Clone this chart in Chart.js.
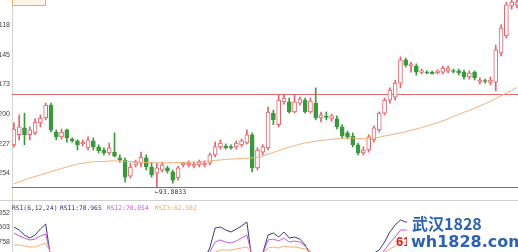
<!DOCTYPE html>
<html>
<head>
<meta charset="utf-8">
<script src="https://cdn.jsdelivr.net/npm/chart.js@4.4.1/dist/chart.umd.min.js"></script>
<style>
  html, body { margin: 0; padding: 0; background: #fff; }
  canvas { display: block; }
</style>
</head>
<body>
<canvas id="priceChart" width="518" height="200"></canvas>
<canvas id="rsiChart" width="518" height="52"></canvas>
<script>
// candles (price units)
const open = [
  93.942, 93.975, 93.998, 93.975, 93.981, 94.014, 94.030, 94.073, 93.984, 93.968,
  93.991, 93.961, 93.955, 93.945, 93.932, 93.955, 93.935, 93.925, 93.915, 93.918,
  93.899, 93.892, 93.839, 93.876, 93.882, 93.899, 93.869, 93.849, 93.859, 93.866,
  93.853, 93.833, 93.876, 93.876, 93.872, 93.876, 93.876, 93.882, 93.909, 93.935,
  93.938, 93.936, 93.935, 93.942, 93.948, 93.975, 93.866, 93.918, 93.932, 94.046,
  94.008, 94.083, 94.083, 94.050, 94.079, 94.089, 94.050, 94.079, 94.030, 94.035,
  94.027, 94.027, 94.001, 93.981, 93.971, 93.942, 93.915, 93.925, 93.958, 93.991,
  94.046, 94.089, 94.099, 94.145, 94.221, 94.201, 94.201, 94.180, 94.181, 94.180,
  94.178, 94.181, 94.185, 94.186, 94.185, 94.181, 94.165, 94.181, 94.148, 94.153,
  94.147, 94.148, 94.244, 94.300, 94.398, 94.402
];
const close = [
  93.994, 94.001, 93.975, 93.991, 94.017, 94.030, 94.073, 93.991, 93.968, 93.984,
  93.965, 93.955, 93.942, 93.951, 93.958, 93.935, 93.922, 93.915, 93.932, 93.905,
  93.892, 93.836, 93.869, 93.885, 93.902, 93.869, 93.843, 93.866, 93.876, 93.856,
  93.826, 93.866, 93.882, 93.882, 93.879, 93.885, 93.882, 93.909, 93.935, 93.948,
  93.933, 93.932, 93.948, 93.955, 93.975, 93.866, 93.925, 93.935, 94.050, 94.024,
  94.089, 94.096, 94.050, 94.083, 94.093, 94.050, 94.086, 94.030, 94.040, 94.032,
  94.037, 94.001, 93.971, 93.968, 93.942, 93.915, 93.925, 93.968, 93.998, 94.046,
  94.089, 94.122, 94.145, 94.221, 94.204, 94.208, 94.181, 94.185, 94.178, 94.176,
  94.185, 94.194, 94.194, 94.183, 94.178, 94.165, 94.178, 94.162, 94.155, 94.150,
  94.155, 94.254, 94.326, 94.402, 94.411, 94.411
];
const high = [
  94.014, 94.040, 94.046, 94.001, 94.027, 94.040, 94.079, 94.079, 93.991, 93.994,
  93.994, 93.965, 93.958, 93.958, 93.968, 93.965, 93.942, 93.932, 93.948, 93.981,
  93.909, 93.899, 93.882, 93.892, 93.918, 93.909, 93.882, 93.882, 93.885, 93.872,
  93.859, 93.872, 93.885, 93.889, 93.885, 93.892, 93.889, 93.915, 93.951, 93.958,
  93.945, 93.942, 93.955, 93.961, 93.991, 93.981, 93.932, 93.942, 94.066, 94.056,
  94.106, 94.106, 94.096, 94.106, 94.099, 94.096, 94.096, 94.129, 94.050, 94.050,
  94.043, 94.037, 94.008, 93.987, 93.981, 93.948, 93.935, 93.975, 94.004, 94.050,
  94.096, 94.129, 94.155, 94.231, 94.227, 94.214, 94.208, 94.191, 94.185, 94.185,
  94.188, 94.201, 94.201, 94.191, 94.191, 94.188, 94.185, 94.185, 94.162, 94.158,
  94.165, 94.270, 94.336, 94.411, 94.418, 94.418
];
const low = [
  93.935, 93.958, 93.942, 93.958, 93.975, 94.001, 94.024, 93.984, 93.958, 93.961,
  93.951, 93.951, 93.925, 93.938, 93.925, 93.925, 93.915, 93.909, 93.909, 93.902,
  93.885, 93.820, 93.833, 93.869, 93.869, 93.859, 93.836, 93.8033, 93.853, 93.849,
  93.816, 93.826, 93.869, 93.869, 93.866, 93.869, 93.869, 93.876, 93.902, 93.928,
  93.928, 93.928, 93.928, 93.935, 93.945, 93.853, 93.859, 93.909, 93.925, 94.008,
  94.001, 94.076, 94.046, 94.046, 94.073, 94.046, 94.046, 94.024, 94.017, 94.024,
  94.020, 93.994, 93.965, 93.961, 93.935, 93.909, 93.909, 93.918, 93.951, 93.984,
  94.040, 94.079, 94.089, 94.129, 94.198, 94.181, 94.171, 94.175, 94.175, 94.175,
  94.175, 94.175, 94.178, 94.178, 94.171, 94.158, 94.158, 94.155, 94.142, 94.145,
  94.139, 94.119, 94.234, 94.293, 94.388, 94.392
];
const ma = [
  93.814, 93.820, 93.827, 93.833, 93.838, 93.843, 93.848, 93.854, 93.859, 93.864,
  93.869, 93.874, 93.879, 93.881, 93.884, 93.886, 93.887, 93.887, 93.889, 93.889,
  93.889, 93.888, 93.887, 93.886, 93.885, 93.884, 93.884, 93.883, 93.882, 93.883,
  93.883, 93.884, 93.884, 93.885, 93.885, 93.886, 93.888, 93.889, 93.891, 93.892,
  93.894, 93.895, 93.896, 93.897, 93.898, 93.899, 93.901, 93.905, 93.911, 93.917,
  93.923, 93.929, 93.934, 93.939, 93.944, 93.948, 93.951, 93.954, 93.956, 93.958,
  93.960, 93.962, 93.963, 93.964, 93.964, 93.963, 93.962, 93.962, 93.964, 93.967,
  93.971, 93.974, 93.978, 93.981, 93.985, 93.990, 93.994, 93.999, 94.004, 94.009,
  94.014, 94.021, 94.027, 94.035, 94.042, 94.049, 94.055, 94.062, 94.070, 94.077,
  94.085, 94.094, 94.103, 94.112, 94.121, 94.130
];
const rsi1 = [
  73, 70, 65, 62, 65, 71, 76, 40, 36, 39,
  34, 32, 28, 31, 38, 32, 28, 26, 32, 30,
  27, 18, 30, 34, 39, 32, 27, 32, 36, 34,
  25, 36, 40, 41, 40, 42, 42, 52, 72, 73,
  70, 68, 71, 74, 78, 38, 44, 47, 65, 67,
  63, 68, 62, 63, 61, 55, 45, 42, 44, 43,
  44, 38, 33, 33, 28, 24, 28, 40, 47, 50,
  58, 68, 75, 80, 78, 78, 74, 74, 73, 72,
  73, 75, 75, 74, 72, 68, 69, 66, 64, 63,
  64, 76, 80, 83, 81, 78.965
];
const rsi2 = [
  67, 64, 62, 60, 61, 64, 66, 44, 41, 42,
  39, 38, 35, 36, 40, 37, 34, 33, 36, 35,
  33, 26, 32, 35, 37, 34, 31, 33, 35, 34,
  29, 34, 37, 38, 38, 39, 39, 48, 58, 60,
  58, 57, 59, 62, 65, 44, 45, 46, 60, 61,
  59, 62, 58, 59, 58, 54, 48, 46, 46, 45,
  45, 42, 39, 39, 35, 32, 33, 39, 44, 44,
  50, 57, 63, 70, 70, 70, 68, 68, 68, 67,
  68, 69, 69, 68, 67, 65, 65, 64, 63, 62,
  63, 67, 70, 72, 71, 70.054
];
const rsi3 = [
  55, 55, 54, 53, 53, 55, 57, 47, 45, 46,
  44, 44, 42, 43, 44, 42, 41, 40, 41, 41,
  40, 35, 37, 38, 39, 38, 36, 37, 38, 38,
  35, 37, 39, 39, 39, 40, 40, 42, 48, 50,
  50, 50, 51, 52, 53, 46, 46, 47, 52, 53,
  52, 54, 53, 53, 52, 51, 48, 47, 47, 46,
  46, 45, 43, 43, 41, 39, 39, 42, 45, 46,
  48, 51, 54, 58, 58, 58, 57, 57, 57, 57,
  57, 58, 58, 58, 57, 56, 56, 56, 55, 55,
  56, 59, 61, 63, 63, 62.502
];

const priceTicks = [94.3118, 94.2145, 94.1173, 94.0200, 93.9227, 93.8254];
const rsiTicks = [87, 72.5, 58];
const rsiTickLabels = ['852', '503', '758'];
const resistLevel = 94.109;
const lowest = Math.min(...low);

// look
const upColor = '#e4626a';
const downColor = '#3c983c';
const maColor = '#f2b07a';
const indexMin = -0.36, indexMax = 95.2;
const priceMin = 93.7606, priceMax = 94.418;

const idx = open.map((_, i) => i);
const isUp = i => close[i] >= open[i];
const pts = arr => idx.map(i => ({ x: i, y: arr[i] }));

function narrowAxis(scale) {
  scale.width = 12;
  scale.paddingTop = 0;
  scale.paddingBottom = 0;
}

const xAxis = { type: 'linear', display: false, offset: false, bounds: 'data', min: indexMin, max: indexMax };

const priceOverlay = {
  id: 'priceOverlay',
  beforeDatasetsDraw(chart) {
    const { ctx, chartArea: a, scales: { y } } = chart;
    ctx.save();
    ctx.lineWidth = 1;
    [[resistLevel, '#e2686c'], [lowest, '#7c64a6']].forEach(([v, c]) => {
      const py = Math.round(y.getPixelForValue(v)) + 0.5;
      ctx.strokeStyle = c;
      ctx.beginPath();
      ctx.moveTo(a.left, py);
      ctx.lineTo(a.right, py);
      ctx.stroke();
    });
    ctx.restore();
  },
  afterDraw(chart) {
    const { ctx, scales: { x, y } } = chart;
    ctx.save();
    const li = low.indexOf(lowest);
    ctx.font = '6.5px "DejaVu Sans Mono"';
    ctx.fillStyle = '#333';
    ctx.textBaseline = 'middle';
    ctx.textAlign = 'left';
    ctx.fillText('\u2190' + lowest.toFixed(4), x.getPixelForValue(li) - 2, y.getPixelForValue(lowest) + 5);
    // small orange badge cut at the top
    ctx.fillStyle = '#fff4e6';
    ctx.strokeStyle = '#f0a860';
    ctx.fillRect(12.5, -3, 33, 8.5);
    ctx.strokeRect(12.5, -3, 33, 8.5);
    ctx.restore();
  }
};

new Chart(document.getElementById('priceChart'), {
  type: 'bar',
  data: {
    datasets: [
      {
        type: 'line',
        label: 'MA',
        data: pts(ma),
        borderColor: maColor,
        borderWidth: 1,
        pointRadius: 0,
        order: -1
      },
      {
        label: 'body',
        data: idx.map(i => ({ x: i, y: [open[i], close[i]] })),
        backgroundColor: c => isUp(c.dataIndex) ? '#ffffff' : downColor,
        borderColor: c => isUp(c.dataIndex) ? upColor : downColor,
        borderWidth: 1,
        borderSkipped: false,
        barThickness: 4,
        minBarLength: 1,
        grouped: false,
        order: 0
      },
      {
        label: 'wick',
        data: idx.map(i => ({ x: i, y: [low[i], high[i]] })),
        backgroundColor: c => isUp(c.dataIndex) ? upColor : downColor,
        barThickness: 1,
        grouped: false,
        order: 1
      }
    ]
  },
  options: {
    responsive: false,
    animation: false,
    layout: { padding: 0 },
    plugins: { legend: { display: false }, tooltip: { enabled: false } },
    scales: {
      x: xAxis,
      y: {
        min: priceMin,
        max: priceMax,
        grid: { display: false, drawTicks: false, tickLength: 0 },
        border: { display: true, color: '#d4d4d4' },
        afterBuildTicks: s => { s.ticks = priceTicks.map(v => ({ value: v })); },
        afterFit: narrowAxis,
        ticks: {
          callback: v => v.toFixed(4).slice(-3),
          font: { size: 7, family: 'Arial' },
          color: '#444',
          padding: 2,
          labelOffset: -7
        }
      }
    }
  },
  plugins: [priceOverlay]
});

const rsiOverlay = {
  id: 'rsiOverlay',
  afterDraw(chart) {
    const { ctx, width } = chart;
    ctx.save();
    ctx.strokeStyle = '#cfcfcf';
    ctx.lineWidth = 1;
    ctx.beginPath();
    ctx.moveTo(0, 0.5);
    ctx.lineTo(width, 0.5);
    ctx.stroke();

    ctx.font = '6.3px "DejaVu Sans Mono"';
    ctx.textBaseline = 'middle';
    [['RSI(6,12,24)', '#33335e', 12],
     ['RSI1:' + rsi1[rsi1.length - 1].toFixed(3), '#2a2a7a', 60],
     ['RSI2:' + rsi2[rsi2.length - 1].toFixed(3), '#cc55cc', 107],
     ['RSI3:' + rsi3[rsi3.length - 1].toFixed(3), '#f0a448', 155]].forEach(([t, c, x]) => {
      ctx.fillStyle = c;
      ctx.fillText(t, x, 8.5);
    });

    // site stamp in the lower right
    ctx.fillStyle = '#e01818';
    ctx.font = 'bold 13px Arial';
    ctx.textBaseline = 'alphabetic';
    ctx.fillText('61', 396, 46);
    ctx.fillStyle = '#ffffff';
    ctx.fillRect(407, 6, 111, 46);
    ctx.fillStyle = '#2d63b0';
    ctx.font = 'bold 16px "Noto Sans CJK SC"';
    ctx.textBaseline = 'middle';
    ctx.fillText('武汉1828', 412, 24);
    ctx.font = 'bold 16px "DejaVu Sans"';
    ctx.fillText('wh1828.com', 411, 43);
    ctx.restore();
  }
};

new Chart(document.getElementById('rsiChart'), {
  type: 'line',
  data: {
    datasets: [
      { label: 'RSI3', data: pts(rsi3), borderColor: '#f3b06a' },
      { label: 'RSI2', data: pts(rsi2), borderColor: '#c85ad2' },
      { label: 'RSI1', data: pts(rsi1), borderColor: '#3a3886' }
    ].map(d => ({ ...d, borderWidth: 1, pointRadius: 0 }))
  },
  options: {
    responsive: false,
    animation: false,
    layout: { padding: 0 },
    plugins: { legend: { display: false }, tooltip: { enabled: false } },
    scales: {
      x: xAxis,
      y: {
        min: 48,
        max: 100,
        grid: { display: false, drawTicks: false, tickLength: 0 },
        border: { display: true, color: '#d4d4d4' },
        afterBuildTicks: s => { s.ticks = rsiTicks.map(v => ({ value: v })); },
        afterFit: narrowAxis,
        ticks: {
          callback: (v, i) => rsiTickLabels[i],
          font: { size: 7, family: 'Arial' },
          color: '#444',
          padding: 2
        }
      }
    }
  },
  plugins: [rsiOverlay]
});
</script>
</body>
</html>
